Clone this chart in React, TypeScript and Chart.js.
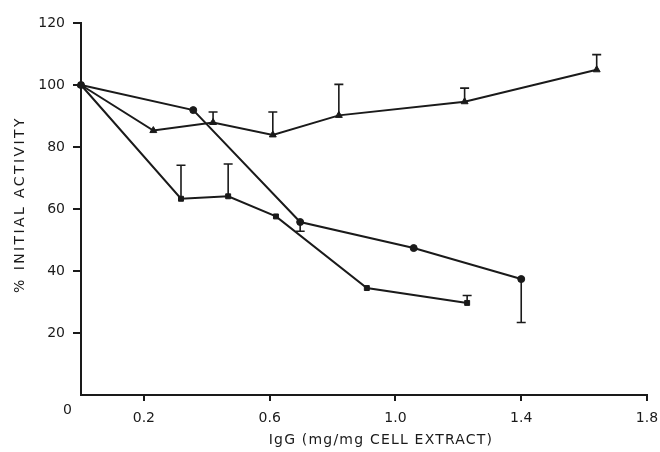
import React, { useEffect, useRef } from "react";
import { Chart, registerables } from "chart.js";

Chart.register(...registerables);

// Series: triangles (top), circles, squares
const triX = [0, 0.23, 0.42, 0.61, 0.82, 1.22, 1.64];
const triY = [100, 85.3, 87.9, 83.9, 90.2, 94.6, 104.9];
const triErr = [null, null, 91.3, 91.3, 100.2, 99, 109.8];

const circX = [0, 0.357, 0.697, 1.058, 1.4];
const circY = [100, 91.9, 55.8, 47.4, 37.4];
const circErr = [null, null, 52.8, null, 23.4];

const sqX = [0, 0.318, 0.468, 0.62, 0.909, 1.228];
const sqY = [100, 63.3, 64.1, 57.6, 34.5, 29.7];
const sqErr = [null, 74.1, 74.5, null, null, 32.1];

const xTicks = [0.2, 0.6, 1.0, 1.4, 1.8];
const yTicks = [20, 40, 60, 80, 100, 120];

const xTitle = "IgG (mg/mg CELL EXTRACT)";
const yTitle = "% INITIAL ACTIVITY";
const originLabel = "0";

const INK = "#1a1a1a";
const FONT = "'DejaVu Sans', sans-serif";

const toPoints = (xs: number[], ys: number[]) => xs.map((x, i) => ({ x, y: ys[i] }));

const errorBarPlugin = {
  id: "errorBars",
  afterDatasetsDraw(chart: any) {
    const { ctx, scales } = chart;
    const xs = scales.x;
    const ys = scales.y;
    chart.data.datasets.forEach((ds: any) => {
      const errs: (number | null)[] = ds.errors || [];
      ds.data.forEach((p: any, i: number) => {
        const e = errs[i];
        if (e === null || e === undefined) return;
        const px = xs.getPixelForValue(p.x);
        const py = ys.getPixelForValue(p.y);
        const ey = ys.getPixelForValue(e);
        ctx.save();
        ctx.strokeStyle = INK;
        ctx.lineWidth = 1.6;
        ctx.beginPath();
        ctx.moveTo(px, py);
        ctx.lineTo(px, ey);
        ctx.moveTo(px - 4.5, ey);
        ctx.lineTo(px + 4.5, ey);
        ctx.stroke();
        ctx.restore();
      });
    });
  },
  afterDraw(chart: any) {
    const { ctx, scales, chartArea } = chart;
    const x0 = scales.x.getPixelForValue(0);
    const y0 = scales.y.getPixelForValue(0);
    ctx.save();
    ctx.fillStyle = INK;
    ctx.font = `14px ${FONT}`;
    ctx.textAlign = "center";
    ctx.textBaseline = "middle";
    ctx.fillText(originLabel, x0 - 13.5, y0 + 15);

    // x-axis title
    (ctx as any).letterSpacing = "1.2px";
    ctx.fillText(xTitle, 381, 440);

    // y-axis title
    (ctx as any).letterSpacing = "2.4px";
    ctx.translate(20, (chartArea.top + chartArea.bottom) / 2 - 4.5);
    ctx.rotate(-Math.PI / 2);
    ctx.fillText(yTitle, 0, 0);
    ctx.restore();
    (ctx as any).letterSpacing = "0px";
  },
};

export default function App() {
  const ref = useRef<HTMLCanvasElement | null>(null);

  useEffect(() => {
    if (!ref.current) return;
    const mk = (xs: number[], ys: number[], errs: (number | null)[], style: string) => ({
      data: toPoints(xs, ys),
      errors: errs,
      showLine: true,
      borderColor: INK,
      backgroundColor: INK,
      borderWidth: 2,
      pointStyle: style,
      pointRadius: style === "triangle" ? 4 : 3.5,
      pointBorderWidth: 1,
      pointBorderColor: INK,
      pointBackgroundColor: INK,
      tension: 0,
      clip: false,
    });

    const chart = new Chart(ref.current, {
      type: "scatter",
      data: {
        datasets: [
          mk(triX, triY, triErr, "triangle"),
          mk(circX, circY, circErr, "circle"),
          mk(sqX, sqY, sqErr, "rect"),
        ] as any,
      },
      plugins: [errorBarPlugin],
      options: {
        animation: false,
        responsive: false,
        maintainAspectRatio: false,
        layout: { padding: { top: 23, right: 13, left: 0, bottom: 0 } },
        plugins: {
          legend: { display: false },
          tooltip: { enabled: false },
        },
        scales: {
          x: {
            type: "linear",
            min: 0,
            max: 1.8,
            afterBuildTicks: (s: any) => {
              s.ticks = xTicks.map((v) => ({ value: v }));
            },
            afterFit: (s: any) => {
              s.height = 57;
              s.paddingLeft = 0;
              s.paddingRight = 0;
            },
            ticks: {
              color: INK,
              font: { family: FONT, size: 14 },
              padding: 9,
              maxRotation: 0,
              autoSkip: false,
              callback: (v: any) => Number(v).toFixed(1),
            },
            grid: {
              display: true,
              drawOnChartArea: false,
              drawTicks: true,
              tickLength: 6,
              color: INK,
              lineWidth: 2,
            },
            border: { display: true, color: INK, width: 2 },
            title: { display: false },
          },
          y: {
            type: "linear",
            min: 0,
            max: 120,
            afterBuildTicks: (s: any) => {
              s.ticks = yTicks.map((v) => ({ value: v }));
            },
            afterFit: (s: any) => {
              s.width = 81;
              s.paddingTop = 0;
              s.paddingBottom = 0;
            },
            ticks: {
              color: INK,
              font: { family: FONT, size: 14 },
              padding: 8,
              autoSkip: false,
            },
            grid: {
              display: true,
              drawOnChartArea: false,
              drawTicks: true,
              tickLength: 8,
              color: INK,
              lineWidth: 2,
            },
            border: { display: true, color: INK, width: 2 },
            title: { display: false },
          },
        },
      } as any,
    });
    return () => chart.destroy();
  }, []);

  return (
    <div style={{ position: "fixed", left: 0, top: 0, width: 660, height: 452, background: "#fff" }}>
      <canvas ref={ref} width={660} height={452} style={{ width: 660, height: 452, display: "block" }} />
    </div>
  );
}
